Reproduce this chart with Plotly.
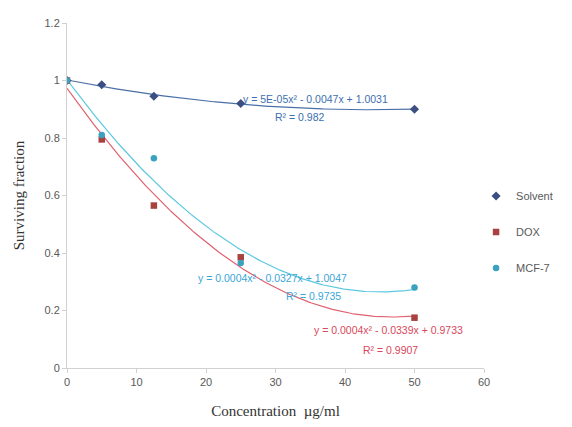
import numpy as np
import plotly.graph_objects as go

conc = [0, 5, 12.5, 25, 50]
solvent = [1.0, 0.985, 0.945, 0.92, 0.90]
dox = [1.0, 0.795, 0.565, 0.385, 0.175]
mcf7 = [1.0, 0.81, 0.73, 0.365, 0.28]

series = [
    ("Solvent", solvent, "#3b4f82", "diamond", 7, "#4a6fa8"),
    ("DOX", dox, "#a8423f", "square", 6.5, "#e0606e"),
    ("MCF-7", mcf7, "#3aa2bf", "circle", 6.5, "#5cc8e0"),
]

eq_text = [
    ("y = 5E-05x² - 0.0047x + 1.0031", "R² = 0.982", (35.7, 0.935), (33.5, 0.872), "#3d6fb0"),
    ("y = 0.0004x² - 0.0327x + 1.0047", "R² = 0.9735", (29.5, 0.312), (35.5, 0.25), "#3aa6d6"),
    ("y = 0.0004x² - 0.0339x + 0.9733", "R² = 0.9907", (46.3, 0.132), (46.5, 0.063), "#d9485a"),
]

fig = go.Figure()
xs = np.linspace(min(conc), max(conc), 200)
for name, ys, col, sym, sz, tcol in series:
    coef = np.polyfit(conc, ys, 2)
    fig.add_trace(go.Scatter(x=xs, y=np.polyval(coef, xs), mode="lines",
                             line=dict(color=tcol, width=1.2), showlegend=False,
                             hoverinfo="skip"))
for name, ys, col, sym, sz, tcol in series:
    fig.add_trace(go.Scatter(x=conc, y=ys, mode="markers", name=name,
                             legendgroup=name,
                             marker=dict(symbol=sym, size=sz, color=col)))

for eq, r2, p1, p2, c in eq_text:
    fig.add_annotation(x=p1[0], y=p1[1], text=eq, showarrow=False,
                       font=dict(size=10.5, color=c, family="Liberation Sans"))
    fig.add_annotation(x=p2[0], y=p2[1], text=r2, showarrow=False,
                       font=dict(size=10.5, color=c, family="Liberation Sans"))

axis_common = dict(showgrid=False, zeroline=False, showline=True,
                   linecolor="#d0d0d0", linewidth=1, ticks="outside",
                   tickcolor="#d0d0d0", ticklen=4, automargin=False,
                   tickfont=dict(size=11, color="#595959", family="Liberation Sans"))

fig.update_layout(
    width=572, height=427,
    margin=dict(l=67, r=88, t=23, b=59),
    paper_bgcolor="white", plot_bgcolor="white",
    xaxis=dict(range=[0, 60], dtick=10,
               title=dict(text="Concentration  µg/ml", standoff=18,
                          font=dict(size=15, color="#333333", family="Liberation Serif")),
               **axis_common),
    yaxis=dict(range=[0, 1.2], dtick=0.2, tickformat="~g",
               title=dict(text="Surviving fraction", standoff=16,
                          font=dict(size=15, color="#333333", family="Liberation Serif")),
               **axis_common),
    legend=dict(x=0.981, y=0.394, yanchor="middle", xanchor="left",
                font=dict(size=11, color="#595959", family="Liberation Sans"),
                tracegroupgap=17, itemwidth=30, bgcolor="rgba(0,0,0,0)"),
    showlegend=True,
)

fig.write_html("out.html", config={"displayModeBar": False},
               post_script="document.body.style.margin='0px';")
